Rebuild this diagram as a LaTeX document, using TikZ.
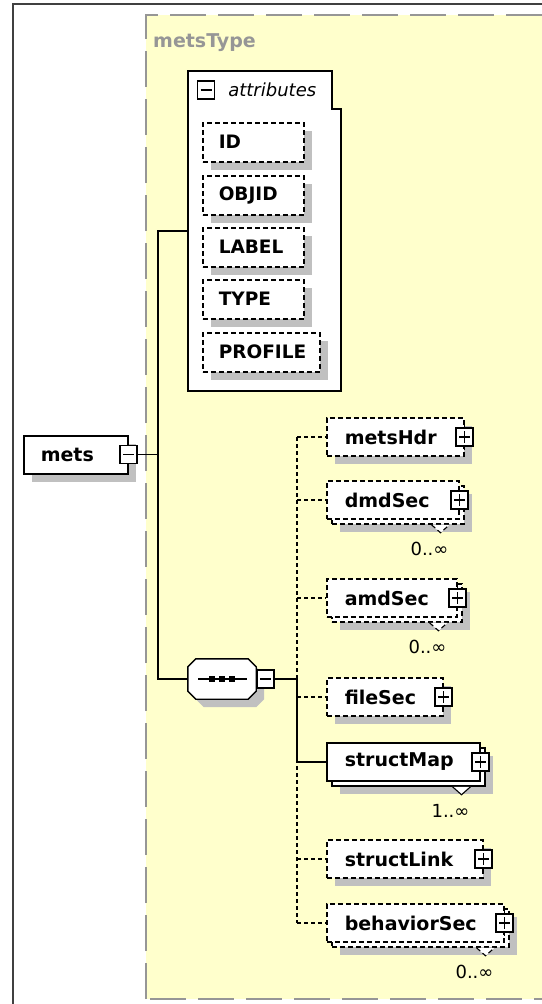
\documentclass[tikz,border=0pt]{standalone}
\usepackage{fontspec}
\setmainfont{DejaVu Sans}
\usetikzlibrary{positioning}

\definecolor{typefill}{RGB}{255,255,204}
\definecolor{typeline}{RGB}{150,150,150}
\definecolor{shadowgray}{RGB}{192,192,192}
\definecolor{framegray}{RGB}{64,64,64}

\begin{document}
\begin{tikzpicture}[
  x=1pt, y=-1pt,
  link/.style={line width=1.4pt},
  dlink/.style={line width=1.4pt, dash pattern=on 4pt off 3pt},
  boxdash/.style={dash pattern=on 5pt off 3pt},
  shadowed/.style={preaction={fill=shadowgray, transform canvas={shift={(8pt,-8pt)}}}},
  stacked/.style={preaction={fill=shadowgray, transform canvas={shift={(13pt,-13pt)}}},
    preaction={draw, fill=white, #1, transform canvas={shift={(5pt,-5pt)}}}},
  elem/.style={draw, fill=white, line width=1.5pt, anchor=west, minimum height=38pt,
    inner xsep=18pt, inner ysep=0pt, align=left, text width=#1,
    font=\bfseries\fontsize{19}{19}\selectfont},
  attr/.style={draw, fill=white, boxdash, shadowed, line width=1.5pt, anchor=north west,
    minimum height=39pt, inner xsep=16pt, inner ysep=0pt, align=left, text width=#1,
    font=\bfseries\fontsize{18.5}{18.5}\selectfont},
  expander/.style={draw, fill=white, solid, line width=1.3pt, minimum width=17pt,
    minimum height=18pt, inner sep=0pt},
  plusbox/.style={expander, path picture={
    \draw ([xshift=3pt]path picture bounding box.west) -- ([xshift=-3pt]path picture bounding box.east);
    \draw ([yshift=-3pt]path picture bounding box.north) -- ([yshift=3pt]path picture bounding box.south);}},
  minusbox/.style={expander, path picture={
    \draw ([xshift=3pt]path picture bounding box.west) -- ([xshift=-3pt]path picture bounding box.east);}},
  mult/.style={inner sep=0pt, font=\fontsize{18}{18}\selectfont},
  notch/.style={fill=white, line width=1.1pt}
]
  \useasboundingbox (0,0) rectangle (541,1004);

  % frame and type area
  \draw[framegray, line width=2pt] (13,1012) -- (13,4) -- (560,4);
  \fill[typefill] (146,15) rectangle (560,999);
  \draw[typeline, line width=2pt, dash pattern=on 36pt off 12pt]
    (146,999) -- (146,15) -- (560,15);
  \draw[typeline, line width=2pt, dash pattern=on 36pt off 12pt] (150,999) -- (560,999);
  \node[anchor=west, inner sep=0pt, text=typeline, font=\bfseries\fontsize{19}{19}\selectfont]
    (typeName) at (153,43) {metsType};

  % attributes
  \draw[link, fill=white] (188,71) -- (332,71) -- (332,109) -- (341,109) -- (341,391) -- (188,391) -- cycle;
  \coordinate (attrW) at (188,231);
  \node[minusbox] (attrMinus) at (206,90) {};
  \node[right=13pt of attrMinus, inner sep=0pt, font=\itshape\fontsize{18}{18}\selectfont] (attrTitle) {attributes};

  \node[attr=69pt] (aID) at (202,122) {ID};
  \node[attr=69pt] (aOBJID) at (202,175) {OBJID};
  \node[attr=69pt] (aLABEL) at (202,227) {LABEL};
  \node[attr=69pt] (aTYPE) at (202,279) {TYPE};
  \node[attr=85pt] (aPROFILE) at (202,332) {PROFILE};

  % root element
  \node[elem=70pt, shadowed, anchor=north west, inner xsep=17pt] (mets) at (23,435) {mets};
  \node[minusbox] (metsMinus) at (mets.east) {};

  % sequence
  \node[minimum width=68pt, minimum height=40pt, inner sep=0pt] (seq) at (222,679) {};
  \draw[line width=1.4pt, fill=white, shadowed]
    ([xshift=8pt]seq.north west) -- ([xshift=-8pt]seq.north east)
    -- ([yshift=-8pt]seq.north east) -- ([yshift=8pt]seq.south east)
    -- ([xshift=-8pt]seq.south east) -- ([xshift=8pt]seq.south west)
    -- ([yshift=8pt]seq.south west) -- ([yshift=-8pt]seq.north west) -- cycle;
  \draw[link] ([xshift=-24pt]seq.center) -- ([xshift=25pt]seq.center);
  \foreach \dx in {-10,0,10}
    \fill ([xshift=\dx pt]seq.center) +(-3,-3) rectangle +(3,3);
  \node[minusbox, right=0pt of seq] (seqMinus) {};

  % child elements
  \node[elem=101pt, boxdash, shadowed] (metsHdr) at (326,437) {metsHdr};
  \node[elem=96pt, boxdash, stacked=boxdash] (dmdSec) at (326,500) {dmdSec};
  \node[elem=94pt, boxdash, stacked=boxdash] (amdSec) at (326,598) {amdSec};
  \node[elem=80pt, boxdash, shadowed] (fileSec) at (326,697) {fileSec};
  \node[elem=117pt, stacked=solid] (structMap) at (326,762) {structMap};
  \node[elem=120pt, boxdash, shadowed] (structLink) at (326,859) {structLink};
  \node[elem=141pt, boxdash, stacked=boxdash] (behaviorSec) at (326,923) {behaviorSec};

  \foreach \e in {metsHdr,dmdSec,amdSec,fileSec,structMap,structLink,behaviorSec} {
    \node[plusbox] (\e Plus) at (\e.east) {};
    \draw[line width=1.3pt] (\e Plus.north) -- ++(0,-3) (\e Plus.south) -- ++(0,3);
  }

  % occurrences
  \foreach \e/\m/\d in {dmdSec/0/boxdash, amdSec/0/boxdash, structMap/1/solid, behaviorSec/0/boxdash} {
    \draw[notch, \d] ([shift={(-28,5)}]\e.south east) -- ([shift={(-19,13)}]\e.south east)
      -- ([shift={(-10,5)}]\e.south east);
    \node[mult] (\e Mult) at ([shift={(-30,29)}]\e.south east) {\m..∞};
  }

  % connectors
  \coordinate (spine) at (158,231);
  \coordinate (bar) at (297,679);
  \draw[link] (metsMinus.east) -- (spine |- metsMinus.east);
  \draw[link] (attrW) -- (spine) -- (spine |- seq.west) -- (seq.west);
  \draw[link] (seqMinus.east) -- (bar);
  \draw[dlink] (bar |- metsHdr.west) -- (bar |- behaviorSec.west);
  \foreach \e in {metsHdr,dmdSec,amdSec,fileSec,structLink,behaviorSec}
    \draw[dlink] (bar |- \e.west) -- (\e.west);
  \draw[link] (bar) -- (bar |- structMap.west) -- (structMap.west);
\end{tikzpicture}
\end{document}
